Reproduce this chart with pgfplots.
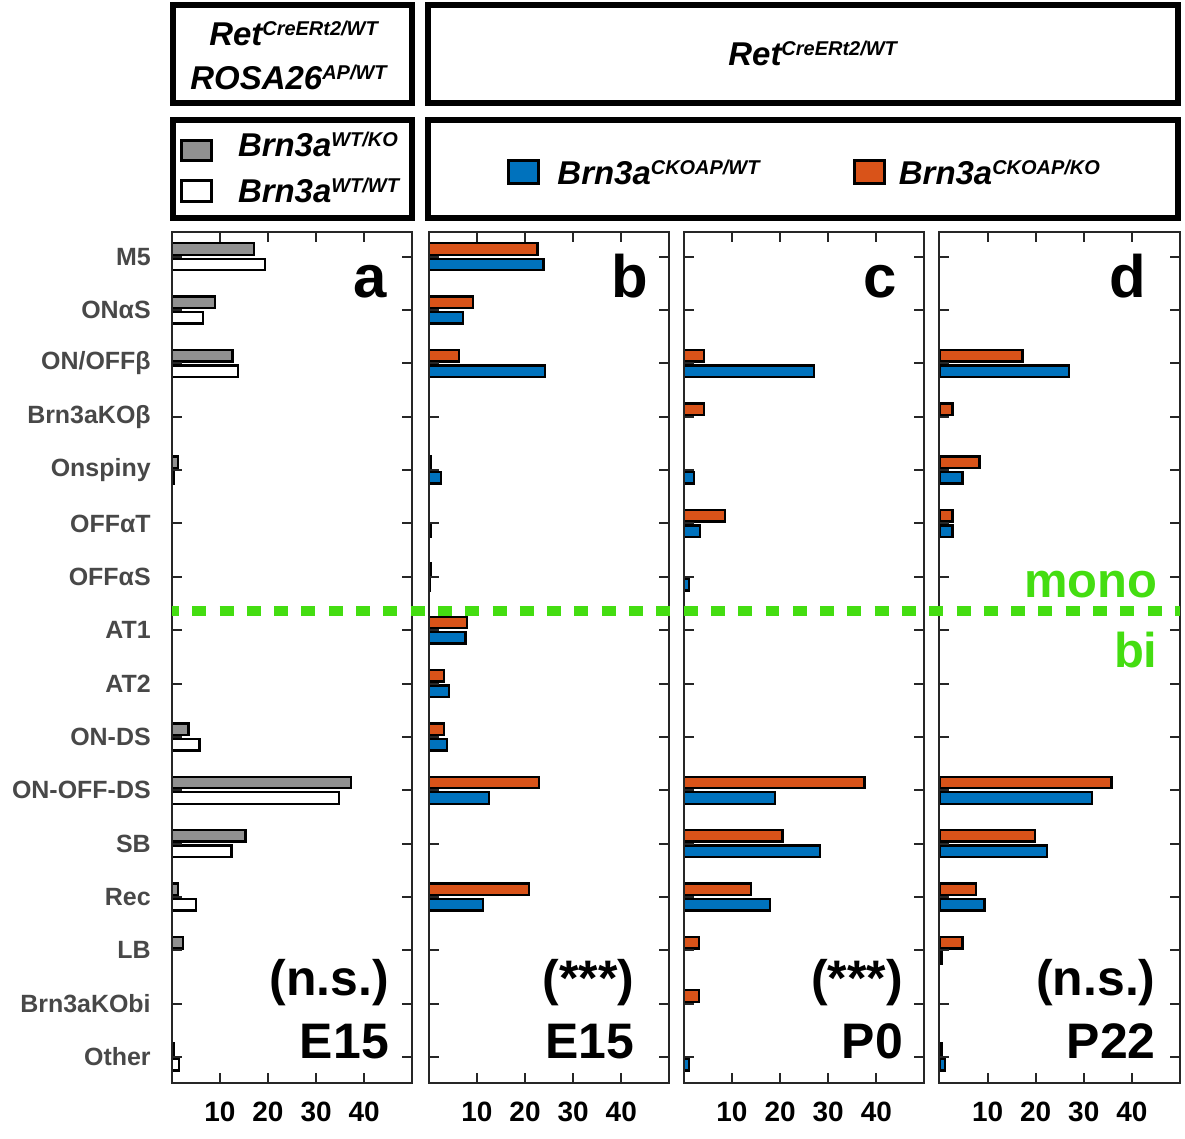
\documentclass[border=0pt]{standalone}
\usepackage{fontspec}
\setmainfont{Liberation Sans}
\usepackage{pgfplots}
\pgfplotsset{compat=1.18}
\definecolor{cblue}{RGB}{0,114,189}
\definecolor{corange}{RGB}{217,83,25}
\definecolor{cgray}{RGB}{145,145,145}
\definecolor{cgreen}{RGB}{68,221,17}
\definecolor{axc}{RGB}{38,38,38}
\definecolor{labc}{RGB}{72,72,72}
\newcommand{\hdr}[2]{{\fontsize{16.5}{20}\selectfont\bfseries\itshape #1\raisebox{5pt}{\fontsize{10}{12}\selectfont #2}}}
\tikzset{
  big/.style={font=\fontsize{30}{30}\selectfont\bfseries, inner sep=0pt},
  mid/.style={font=\fontsize{25}{25}\selectfont\bfseries, inner sep=0pt},
}
\pgfplotsset{
  panel/.style={
    scale only axis, width=120.5pt, height=426.5pt,
    xmin=0, xmax=50, ymin=-0.47, ymax=15.49, y dir=reverse,
    anchor=south west,
    bar width=0.215,
    xtick={10,20,30,40}, ytick={0,...,15},
    tick align=inside, xtick pos=both, ytick pos=both,
    major tick length=5pt,
    axis line style={line width=1pt, draw=axc},
    every tick/.style={line width=1pt, draw=axc},
    xticklabel style={font=\fontsize{14}{14}\selectfont\bfseries, yshift=-6pt},
    /pgf/number format/assume math mode=true,
    yticklabels={},
    axis on top,
    clip=false,
  },
  topbar/.style={xbar, bar shift=-0.145, draw=black, line width=1.2pt},
  botbar/.style={xbar, bar shift=0.145, draw=black, line width=1.2pt},
}
\begin{document}
\begin{tikzpicture}
\begin{scope}[x=0.5pt,y=-0.5pt]
\path[use as bounding box] (0,0) rectangle (1185,1140);
\draw[line width=3pt] (173,5) rectangle (413,103);
\draw[line width=3pt] (173,120) rectangle (413,218);
\draw[line width=3pt] (429,5) rectangle (1180,103);
\draw[line width=3pt] (429,120) rectangle (1180,218);
\node[anchor=base, inner sep=0] at (294,46) {\hdr{Ret}{CreERt2/WT}};
\node[anchor=base, inner sep=0] at (289,90) {\hdr{ROSA26}{AP/WT}};
\draw[line width=1.5pt, fill=cgray] (182,141) rectangle (212,161);
\draw[line width=1.5pt, fill=white] (182,181) rectangle (212,202);
\node[anchor=base west, inner sep=0] at (238,157) {\hdr{Brn3a}{WT/KO}};
\node[anchor=base west, inner sep=0] at (238,203) {\hdr{Brn3a}{WT/WT}};
\node[anchor=base, inner sep=0] at (814,66) {\hdr{Ret}{CreERt2/WT}};
\draw[line width=1.5pt, fill=cblue] (509,161) rectangle (539,184);
\node[anchor=base west, inner sep=0] at (558,185) {\hdr{Brn3a}{CKOAP/WT}};
\draw[line width=1.5pt, fill=corange] (856,161) rectangle (886,184);
\node[anchor=base west, inner sep=0] at (900,185) {\hdr{Brn3a}{CKOAP/KO}};
\end{scope}

% panel a
\begin{axis}[panel, at={(86pt,-542.5pt)},
  yticklabels={M5,ONαS,ON/OFFβ,Brn3aKOβ,Onspiny,OFFαT,OFFαS,AT1,AT2,ON-DS,ON-OFF-DS,SB,Rec,LB,Brn3aKObi,Other},
  yticklabel style={font=\fontsize{12.5}{13}\selectfont\bfseries, text=labc, xshift=-7pt}]
\addplot[topbar, fill=cgray] coordinates {(17.1,0) (9.0,1) (12.6,2) (1.3,4) (3.5,9) (37.3,10) (15.3,11) (1.3,12) (2.3,13) (0.5,15)};
\addplot[botbar, fill=white] coordinates {(19.4,0) (6.5,1) (13.8,2) (0.5,4) (5.8,9) (34.8,10) (12.4,11) (5.1,12) (1.5,15)};
\node[big, anchor=base] at (axis cs:41.2,0.767) {a};
\node[mid, anchor=base east] at (axis cs:45.2,13.84) {(n.s.)};
\node[mid, anchor=base east] at (axis cs:45.2,15.02) {E15};
\end{axis}

% panel b
\begin{axis}[panel, at={(214.75pt,-542.5pt)}]
\addplot[topbar, fill=corange] coordinates {(22.6,0) (9.2,1) (6.3,2) (0.5,4) (0.5,6) (8.0,7) (3.1,8) (3.1,9) (22.9,10) (20.8,12)};
\addplot[botbar, fill=cblue] coordinates {(23.8,0) (7.1,1) (24.2,2) (2.6,4) (0.4,5) (0.3,6) (7.6,7) (4.2,8) (3.8,9) (12.5,10) (11.3,12)};
\node[big, anchor=base] at (axis cs:41.7,0.767) {b};
\node[mid, anchor=base east] at (axis cs:42.8,13.84) {(***)};
\node[mid, anchor=base east] at (axis cs:42.8,15.02) {E15};
\end{axis}

% panel c
\begin{axis}[panel, at={(342.5pt,-542.5pt)}]
\addplot[topbar, fill=corange] coordinates {(4.2,2) (4.2,3) (8.6,5) (37.5,10) (20.5,11) (13.9,12) (3.1,13) (3.1,14)};
\addplot[botbar, fill=cblue] coordinates {(27.0,2) (2.1,4) (3.3,5) (1.1,6) (19.0,10) (28.3,11) (17.9,12) (1.1,15)};
\node[big, anchor=base] at (axis cs:40.7,0.767) {c};
\node[mid, anchor=base east] at (axis cs:45.6,13.84) {(***)};
\node[mid, anchor=base east] at (axis cs:45.6,15.02) {P0};
\end{axis}

% panel d
\begin{axis}[panel, at={(470.5pt,-542.5pt)}]
\addplot[topbar, fill=corange] coordinates {(17.3,2) (2.7,3) (8.3,4) (2.7,5) (35.8,10) (19.9,11) (7.6,12) (4.8,13) (0.4,15)};
\addplot[botbar, fill=cblue] coordinates {(26.9,2) (4.8,4) (2.7,5) (31.7,10) (22.4,11) (9.4,12) (0.4,13) (1.2,15)};
\node[big, anchor=base] at (axis cs:39.2,0.767) {d};
\node[mid, anchor=base east] at (axis cs:45.0,13.84) {(n.s.)};
\node[mid, anchor=base east] at (axis cs:45.0,15.02) {P22};
\node[font=\fontsize{24.5}{25}\selectfont\bfseries, inner sep=0pt, anchor=base east, text=cgreen] at (axis cs:45.4,6.38) {mono};
\node[font=\fontsize{24.5}{25}\selectfont\bfseries, inner sep=0pt, anchor=base east, text=cgreen] at (axis cs:45.4,7.69) {bi};
\end{axis}

\begin{scope}[x=0.5pt,y=-0.5pt]
\draw[cgreen, line width=5pt, dash pattern=on 7pt off 6.67pt, dash phase=3.35pt] (172,612) -- (1182,612);
\end{scope}
\end{tikzpicture}
\end{document}
